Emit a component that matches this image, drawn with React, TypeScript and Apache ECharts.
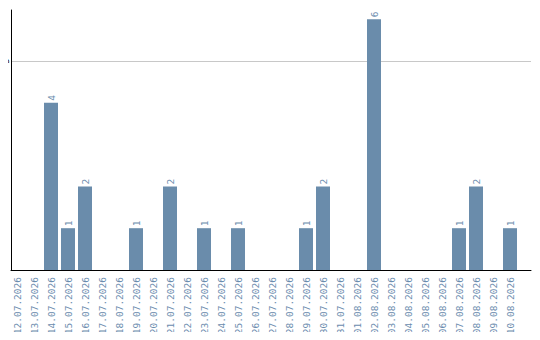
import React, { useEffect, useRef } from "react";
import * as echarts from "echarts";

// Daily counts, 12.07.2026 – 10.08.2026
const dates: string[] = [
  "12.07.2026", "13.07.2026", "14.07.2026", "15.07.2026", "16.07.2026",
  "17.07.2026", "18.07.2026", "19.07.2026", "20.07.2026", "21.07.2026",
  "22.07.2026", "23.07.2026", "24.07.2026", "25.07.2026", "26.07.2026",
  "27.07.2026", "28.07.2026", "29.07.2026", "30.07.2026", "31.07.2026",
  "01.08.2026", "02.08.2026", "03.08.2026", "04.08.2026", "05.08.2026",
  "06.08.2026", "07.08.2026", "08.08.2026", "09.08.2026", "10.08.2026",
];
const counts: (number | null)[] = [
  null, null, 4, 1, 2,
  null, null, 1, null, 2,
  null, 1, null, 1, null,
  null, null, 1, 2, null,
  null, 6, null, null, null,
  null, 1, 2, null, 1,
];
const yMax = 6.22;
const yInterval = 5;
const yTicks: number[] = [5];

const BAR = "#6a8cab";
const TEXT = "#6b8cae";
const FONT = "DejaVu Sans Mono";

export default function App() {
  const ref = useRef<HTMLDivElement>(null);

  useEffect(() => {
    if (!ref.current) return;
    const chart = echarts.init(ref.current, null, { renderer: "svg" });
    chart.setOption({
      animation: false,
      backgroundColor: "#ffffff",
      grid: [
        { left: 8.5, width: 510, top: 10, bottom: 70 },
        { left: 11, right: 9, top: 10, bottom: 70 },
      ],
      xAxis: [
        {
          type: "category",
          gridIndex: 0,
          data: dates,
          axisLine: { show: false },
          axisTick: { show: false },
          axisLabel: {
            rotate: 90,
            interval: 0,
            margin: 7,
            color: TEXT,
            fontFamily: FONT,
            fontSize: 9.5,
          },
        },
        {
          type: "value",
          gridIndex: 1,
          min: 0,
          max: 1,
          axisLine: { show: true, onZero: false, lineStyle: { color: "#000", width: 1 } },
          axisTick: { show: false },
          axisLabel: { show: false },
          splitLine: { show: false },
        },
      ],
      yAxis: [
        {
          type: "value",
          gridIndex: 0,
          min: 0,
          max: yMax,
          interval: yInterval,
          axisLine: { show: false },
          axisTick: { show: false },
          axisLabel: { show: false },
          splitLine: { show: false },
        },
        {
          // axis line and the gridline at 5
          type: "value",
          gridIndex: 1,
          min: 0,
          max: yMax,
          interval: yInterval,
          axisLine: { show: true, lineStyle: { color: "#000", width: 1 } },
          axisTick: { show: false },
          axisLabel: { show: false },
          splitLine: {
            show: true,
            lineStyle: { color: ["rgba(0,0,0,0)", "#c8c8c8", "rgba(0,0,0,0)"], width: 1 },
          },
        },
      ],
      series: [
        {
          type: "bar",
          xAxisIndex: 0,
          yAxisIndex: 0,
          data: counts,
          barWidth: 14,
          itemStyle: { color: BAR },
          label: {
            show: true,
            position: "top",
            rotate: 90,
            align: "left",
            verticalAlign: "middle",
            distance: 2,
            color: TEXT,
            fontFamily: FONT,
            fontSize: 9.5,
          },
        },
      ],
    });

    // y tick labels, rotated, placed left of the axis line at the axis' own scale
    const tickLabels = yTicks.map((v) => {
      const y = chart.convertToPixel({ yAxisIndex: 1 }, v) as number;
      return {
        type: "text",
        x: 1,
        y,
        rotation: Math.PI / 2,
        silent: true,
        style: {
          text: String(v),
          fill: "#000",
          font: `8.5px "${FONT}"`,
          align: "center",
          verticalAlign: "top",
        },
      };
    });
    chart.setOption({ graphic: tickLabels });

    return () => chart.dispose();
  }, []);

  return <div ref={ref} style={{ width: 540, height: 340, margin: -8 }} />;
}
